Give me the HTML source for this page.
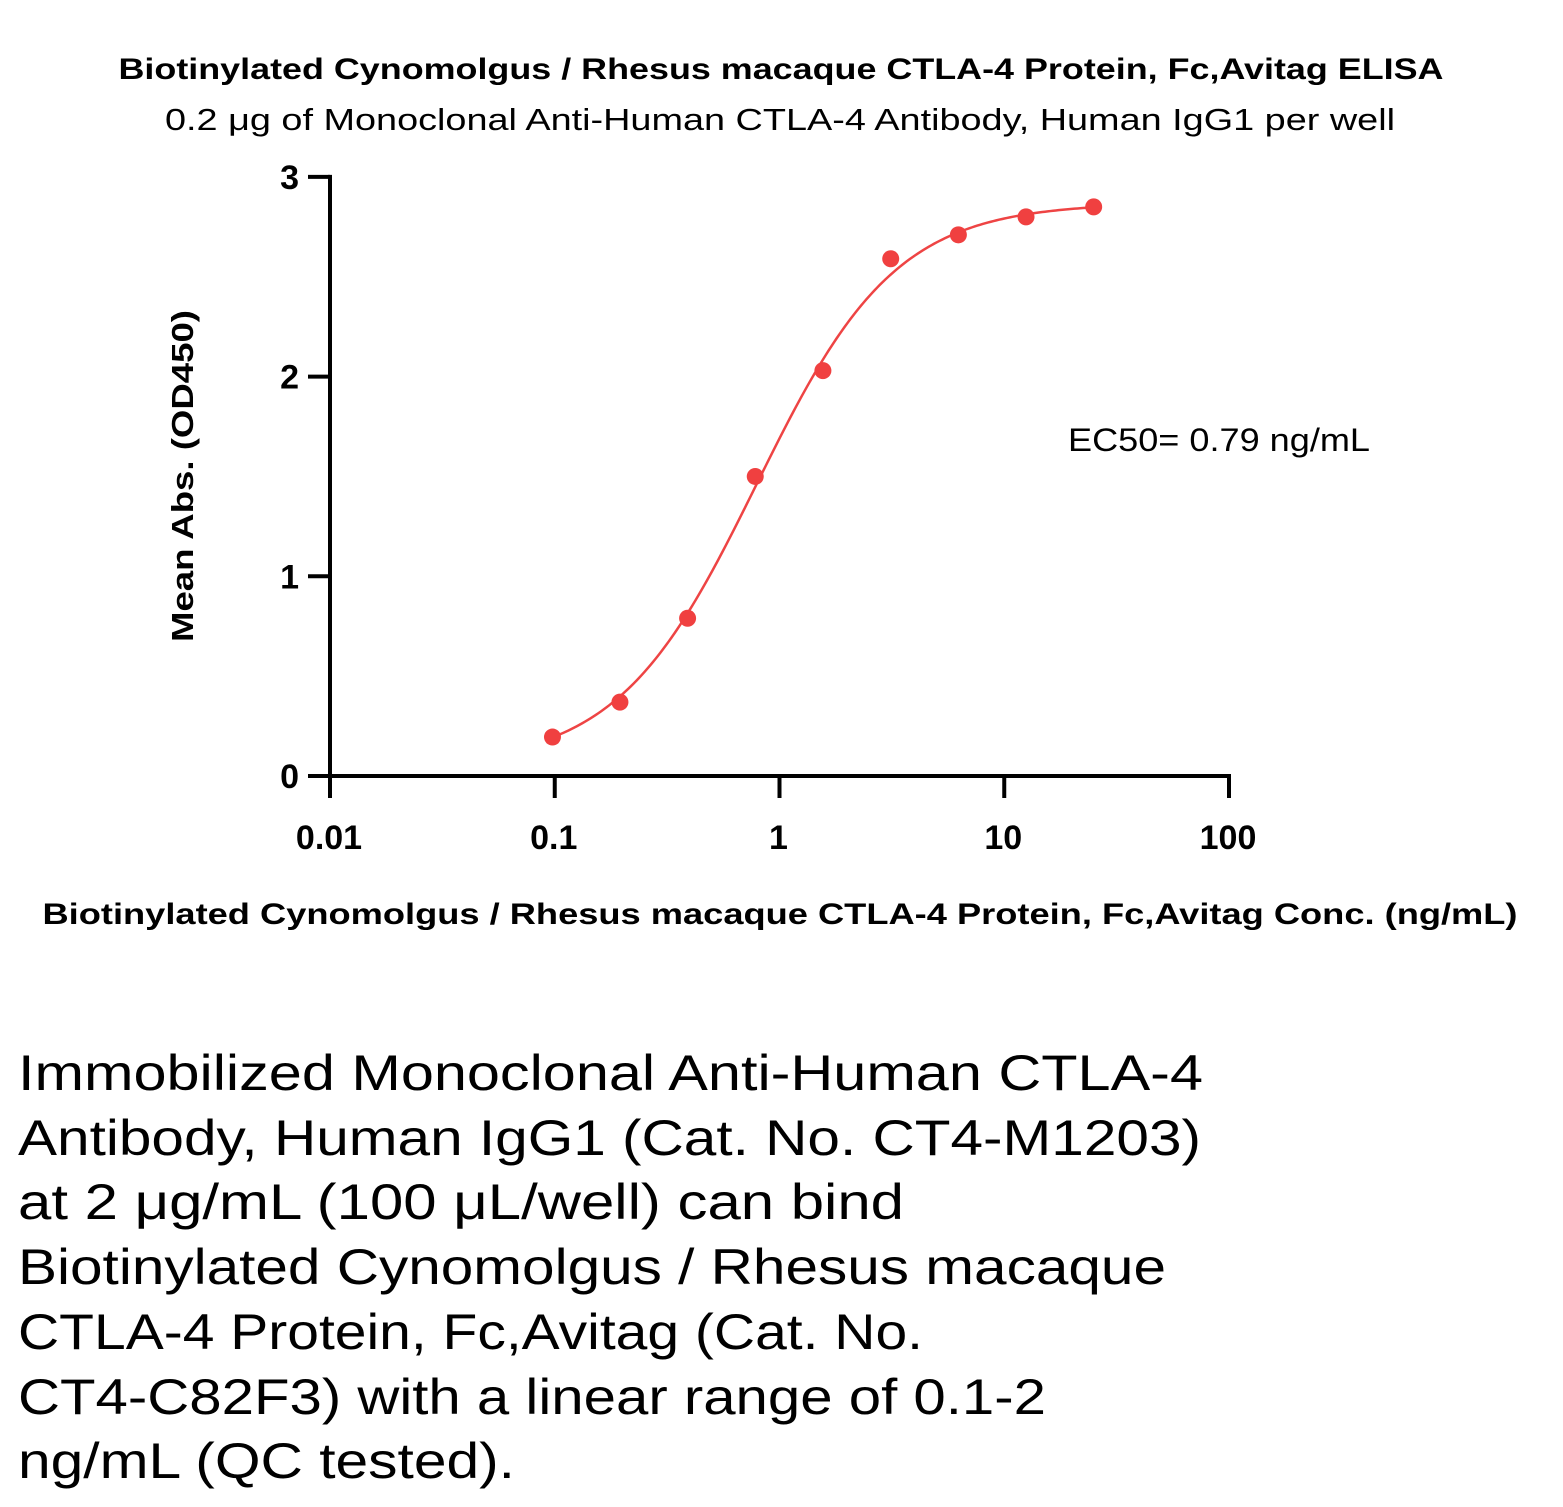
<!DOCTYPE html>
<html><head><meta charset="utf-8"><style>
html,body{margin:0;padding:0;background:#fff;}
svg{display:block;}
text{font-family:"Liberation Sans",sans-serif;fill:#000;}
</style></head><body>
<svg id="chart" width="1563" height="1507" viewBox="0 0 1563 1507" xmlns="http://www.w3.org/2000/svg">
<text x="781" y="79" text-anchor="middle" font-size="30" font-weight="bold" textLength="1325" lengthAdjust="spacingAndGlyphs">Biotinylated Cynomolgus / Rhesus macaque CTLA-4 Protein, Fc,Avitag ELISA</text>
<text x="780" y="130" text-anchor="middle" font-size="31" textLength="1230" lengthAdjust="spacingAndGlyphs">0.2 μg of Monoclonal Anti-Human CTLA-4 Antibody, Human IgG1 per well</text>
<text transform="translate(193,476) rotate(-90)" text-anchor="middle" font-size="31" font-weight="bold" textLength="332" lengthAdjust="spacingAndGlyphs">Mean Abs. (OD450)</text>
<text x="780" y="924" text-anchor="middle" font-size="30" font-weight="bold" textLength="1475" lengthAdjust="spacingAndGlyphs">Biotinylated Cynomolgus / Rhesus macaque CTLA-4 Protein, Fc,Avitag Conc. (ng/mL)</text>
<text x="1068" y="451" font-size="32" textLength="302" lengthAdjust="spacingAndGlyphs">EC50= 0.79 ng/mL</text>
<g id="axes"></g>
<g id="marks"></g>
<g font-size="50">
<text x="18" y="1090" textLength="1185" lengthAdjust="spacingAndGlyphs">Immobilized Monoclonal Anti-Human CTLA-4</text>
<text x="18" y="1155" textLength="1183" lengthAdjust="spacingAndGlyphs">Antibody, Human IgG1 (Cat. No. CT4-M1203)</text>
<text x="18" y="1219" textLength="886" lengthAdjust="spacingAndGlyphs">at 2 μg/mL (100 μL/well) can bind</text>
<text x="18" y="1284" textLength="1148" lengthAdjust="spacingAndGlyphs">Biotinylated Cynomolgus / Rhesus macaque</text>
<text x="18" y="1349" textLength="905" lengthAdjust="spacingAndGlyphs">CTLA-4 Protein, Fc,Avitag (Cat. No.</text>
<text x="18" y="1414" textLength="1028" lengthAdjust="spacingAndGlyphs">CT4-C82F3) with a linear range of 0.1-2</text>
<text x="18" y="1478" textLength="497" lengthAdjust="spacingAndGlyphs">ng/mL (QC tested).</text>
</g>
</svg>
<script>
const concentrations = [0.0977, 0.195, 0.39, 0.78, 1.56, 3.125, 6.25, 12.5, 25];
const absorbances = [0.195, 0.37, 0.79, 1.50, 2.03, 2.59, 2.71, 2.80, 2.85];
const fitParams = [0.05, 2.87, 0.79, 1.4]; // bottom, top, EC50, hill
const xTicks = [0.01, 0.1, 1, 10, 100];
const xTickLabels = ["0.01", "0.1", "1", "10", "100"];
const yTicks = [0, 1, 2, 3];
const yTickLabels = ["0", "1", "2", "3"];

const NS = "http://www.w3.org/2000/svg";
const X0 = 330, DEC = 224.75, Y0 = 776, YU = 199.7;
function xs(v){ return X0 + (Math.log10(v) + 2) * DEC; }
function ys(v){ return Y0 - v * YU; }
function mk(tag, attrs, parent){ const e = document.createElementNS(NS, tag); for (const k in attrs) e.setAttribute(k, attrs[k]); parent.appendChild(e); return e; }
const axes = document.getElementById('axes'), marks = document.getElementById('marks');

let e = mk('line', {x1:X0, y1:ys(3)-2, x2:X0, y2:Y0+2, stroke:'#000','stroke-width':4}, axes);


e = mk('line', {x1:X0-2, y1:Y0, x2:xs(100)+2, y2:Y0, stroke:'#000','stroke-width':4}, axes);



yTicks.forEach((v,i)=>{
  const t = mk('line', {x1:X0-22, y1:ys(v), x2:X0, y2:ys(v), stroke:'#000','stroke-width':4}, axes);
  
  
  const l = mk('text', {x:299, y:ys(v)+12, 'text-anchor':'end','font-size':34,'font-weight':'bold'}, axes);
  l.textContent = yTickLabels[i];
  
  
});
xTicks.forEach((v,i)=>{
  const t = mk('line', {x1:xs(v), y1:Y0, x2:xs(v), y2:Y0+22, stroke:'#000','stroke-width':4}, axes);
  
  
  const l = mk('text', {x:xs(v)-1, y:849, 'text-anchor':'middle','font-size':34,'font-weight':'bold'}, axes);
  l.textContent = xTickLabels[i];
  
  
});

function fit(x){ const [b,t,c,h]=fitParams; return b + (t-b)/(1+Math.pow(c/x,h)); }
const lo = Math.log10(concentrations[0]), hi = Math.log10(concentrations[concentrations.length-1]);
let d = '';
for (let i=0;i<=200;i++){ const lx = lo + (hi-lo)*i/200, x = Math.pow(10,lx); d += (i?'L':'M') + xs(x).toFixed(2) + ',' + ys(fit(x)).toFixed(2); }
const curve = mk('path', {d:d, fill:'none', stroke:'#ee4444','stroke-width':2.5}, marks);


concentrations.forEach((c,i)=>{
  const p = mk('circle', {cx:xs(c), cy:ys(absorbances[i]), r:8.5, fill:'#f04040'}, marks);
  
  
});
</script>
</body></html>
